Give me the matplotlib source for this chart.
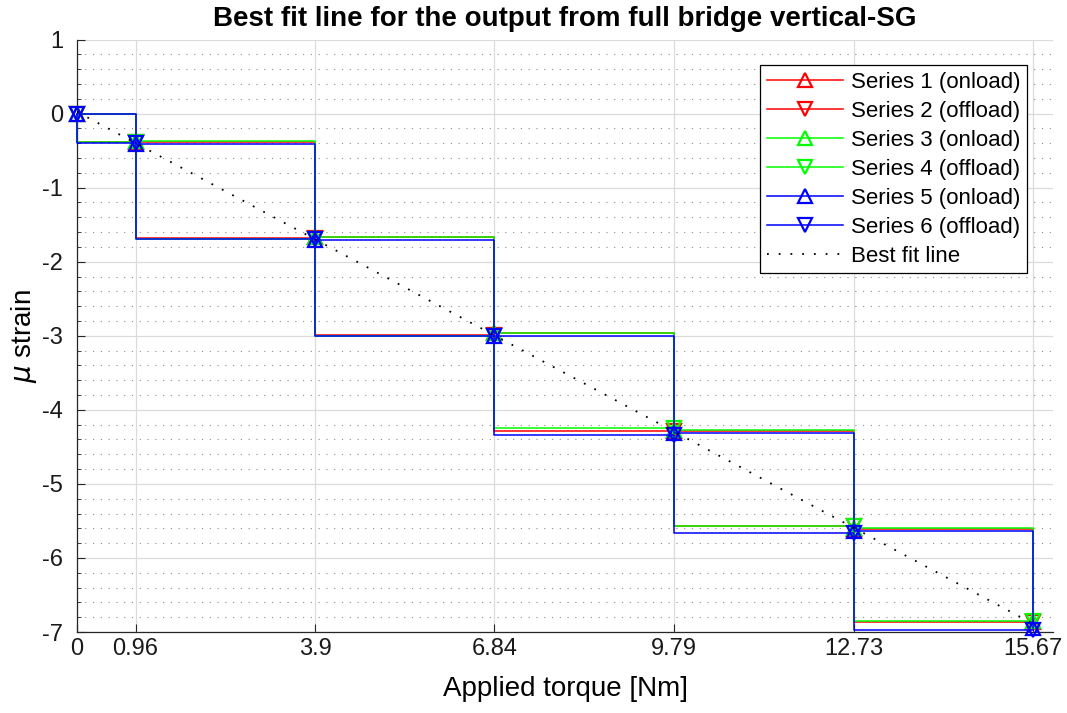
import matplotlib.pyplot as plt
import numpy as np
from matplotlib.ticker import MultipleLocator, NullLocator

plt.rcParams['font.family'] = ['Liberation Sans', 'DejaVu Sans']
plt.rcParams['axes.unicode_minus'] = False

# applied torque steps [Nm]
torque = [0, 0.96, 3.9, 6.84, 9.79, 12.73, 15.67]
tick_labels = ['0', '0.96', '3.9', '6.84', '9.79', '12.73', '15.67']

# micro strain readings per series
s1_on = [0, -0.39, -1.67, -2.96, -4.29, -5.61, -6.86]
s2_off = [0, -0.38, -1.68, -2.99, -4.28, -5.57, -6.86]
s3_on = [0, -0.37, -1.66, -2.96, -4.27, -5.59, -6.85]
s4_off = [0, -0.38, -1.69, -3.00, -4.24, -5.57, -6.85]
s5_on = [0, -0.41, -1.71, -3.01, -4.31, -5.63, -6.95]
s6_off = [0, -0.40, -1.70, -3.00, -4.34, -5.66, -6.97]

series = [
    ("Series 1 (onload)", s1_on, "red", "^", "post"),
    ("Series 2 (offload)", s2_off, "red", "v", "pre"),
    ("Series 3 (onload)", s3_on, (0, 1, 0), "^", "post"),
    ("Series 4 (offload)", s4_off, (0, 1, 0), "v", "pre"),
    ("Series 5 (onload)", s5_on, "blue", "^", "post"),
    ("Series 6 (offload)", s6_off, "blue", "v", "pre"),
]

fig = plt.figure(figsize=(10.67, 7.13), dpi=100)
ax = fig.add_axes([0.0722, 0.1136, 0.9148, 0.8310])

for label, vals, color, marker, where in series:
    ax.step(torque, vals, where=where, color=color, lw=1.1, marker=marker,
            markersize=10, markerfacecolor='none', markeredgewidth=1.6,
            label=label, clip_on=False, zorder=3)

# best fit through all readings
all_x = np.tile(torque, len(series))
all_y = np.concatenate([s[1] for s in series])
slope, intercept = np.polyfit(all_x, all_y, 1)
fit_x = np.array([torque[0], torque[-1]])
ax.plot(fit_x, slope * fit_x + intercept, color='black', lw=1.3,
        linestyle=(0, (1, 5.5)), label='Best fit line', zorder=4)

ax.set_xlim(0, 16)
ax.set_ylim(-7, 1)
ax.set_xticks(torque)
ax.set_xticklabels(tick_labels)
ax.yaxis.set_major_locator(MultipleLocator(1))
ax.yaxis.set_minor_locator(MultipleLocator(0.2))
ax.xaxis.set_minor_locator(NullLocator())

ax.grid(which='major', color='0.86', lw=0.9)
ax.yaxis.grid(which='minor', color='0.55', lw=0.8, linestyle=(0, (1, 6)))
ax.set_axisbelow(True)

for side in ('top', 'right'):
    ax.spines[side].set_visible(False)
for side in ('left', 'bottom'):
    ax.spines[side].set_color('0.15')
    ax.spines[side].set_linewidth(0.9)
ax.tick_params(which='both', direction='in', colors='0.15', labelsize=17,
               labelcolor='0.1')
ax.tick_params(which='major', length=6)
ax.tick_params(which='minor', length=3)
ax.tick_params(axis='y', which='major', pad=10)
ax.tick_params(axis='x', which='major', pad=4)

ax.set_title('Best fit line for the output from full bridge vertical-SG',
             fontsize=20, fontweight='bold', pad=10)
ax.set_xlabel('Applied torque [Nm]', fontsize=20, labelpad=12)
ax.set_ylabel(r'$\mu$ strain', fontsize=20, labelpad=2)

leg = ax.legend(loc='upper right', bbox_to_anchor=(0.973, 0.957),
                borderaxespad=0, fontsize=16, handlelength=3.4,
                handletextpad=0.36, labelspacing=0.36, borderpad=0.3,
                fancybox=False, framealpha=1, edgecolor='black')
leg.get_frame().set_linewidth(0.9)

fig.savefig('out.png', dpi=100)
